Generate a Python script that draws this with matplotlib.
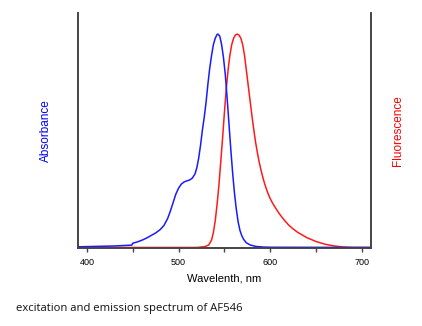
import matplotlib
matplotlib.use("Agg")
from matplotlib import pyplot as plt
from matplotlib.ticker import MultipleLocator

# absorbance (excitation) spectrum, normalised
abs_nm = [390, 400, 410, 420, 430, 440, 449, 450, 455, 460, 465, 470, 475, 480,
          484, 488, 491, 494, 497, 500, 503, 506, 509, 512, 515, 518, 520, 522,
          524, 526, 528, 530, 532, 534, 536, 538, 540, 542, 543, 545, 547, 549,
          551, 553, 555, 557, 559, 561, 563, 565, 567, 569, 571, 574, 578, 584,
          592, 600, 710]
abs_val = [0.003, 0.004, 0.005, 0.006, 0.007, 0.009, 0.011, 0.020, 0.026, 0.034,
           0.044, 0.056, 0.068, 0.084, 0.103, 0.135, 0.170, 0.210, 0.250, 0.278,
           0.297, 0.307, 0.312, 0.316, 0.325, 0.345, 0.375, 0.420, 0.480, 0.550,
           0.610, 0.680, 0.765, 0.840, 0.900, 0.950, 0.980, 0.998, 1.000, 0.990,
           0.950, 0.890, 0.810, 0.700, 0.580, 0.460, 0.350, 0.255, 0.180, 0.120,
           0.080, 0.055, 0.038, 0.022, 0.012, 0.005, 0.002, 0.001, 0.0]

# fluorescence (emission) spectrum, normalised
em_nm = [390, 520, 529, 533, 536, 538, 540, 542, 544, 546, 548, 550, 552, 554,
         556, 558, 560, 562, 564, 566, 568, 570, 572, 574, 576, 578, 580, 582,
         584, 586, 588, 590, 592, 594, 596, 598, 600, 603, 606, 610, 615, 620,
         625, 630, 640, 650, 660, 670, 680, 690, 710]
em_val = [0.0, 0.0, 0.004, 0.012, 0.035, 0.070, 0.125, 0.200, 0.290, 0.400,
          0.510, 0.630, 0.740, 0.830, 0.900, 0.950, 0.980, 0.995, 1.000, 0.995,
          0.980, 0.950, 0.900, 0.830, 0.760, 0.690, 0.620, 0.555, 0.495, 0.445,
          0.400, 0.362, 0.328, 0.298, 0.272, 0.249, 0.229, 0.205, 0.184, 0.158,
          0.130, 0.106, 0.087, 0.071, 0.046, 0.028, 0.015, 0.007, 0.002, 0.0, 0.0]

x_ticks = [400, 500, 600, 700]

plt.rcParams['font.family'] = ['Liberation Sans', 'DejaVu Sans']

fig = plt.figure(figsize=(4.22, 3.26), dpi=100)
ax = fig.add_axes([0.1855, 0.2383, 0.6935, 0.7227])
ax2 = ax.twinx()

spine_col = '#444444'
ax.plot(em_nm, em_val, color='#ff1a1a', lw=1.1, zorder=3)
ax.plot(abs_nm, abs_val, color='#1a1aff', lw=1.1, zorder=4)

ax.set_xlim(390.5, 710)
ax.set_ylim(-0.004, 1.10)
ax2.set_ylim(-0.004, 1.10)

for a in (ax, ax2):
    a.spines['top'].set_visible(False)
    for s in ('left', 'right', 'bottom'):
        a.spines[s].set_color(spine_col)
        a.spines[s].set_linewidth(1.2)
    a.set_yticks([])

ax.set_xticks(x_ticks)
ax.xaxis.set_minor_locator(MultipleLocator(50))
ax.tick_params(axis='x', which='both', direction='out', length=3, width=1,
               color=spine_col, labelsize=6.5, pad=4)

ax.set_xlabel('Wavelenth, nm', fontsize=8, labelpad=5)
ax.set_ylabel('Absorbance', fontsize=8.5, color='#0000ff', labelpad=19)
ax2.set_ylabel('Fluorescence', fontsize=8.5, color='#ff0000', labelpad=15)

fig.text(0.037, 0.046, 'excitation and emission spectrum of AF546',
         fontsize=8.1, family=['Open Sans', 'DejaVu Sans'], color='#111111')

fig.savefig('out.png', dpi=100)
